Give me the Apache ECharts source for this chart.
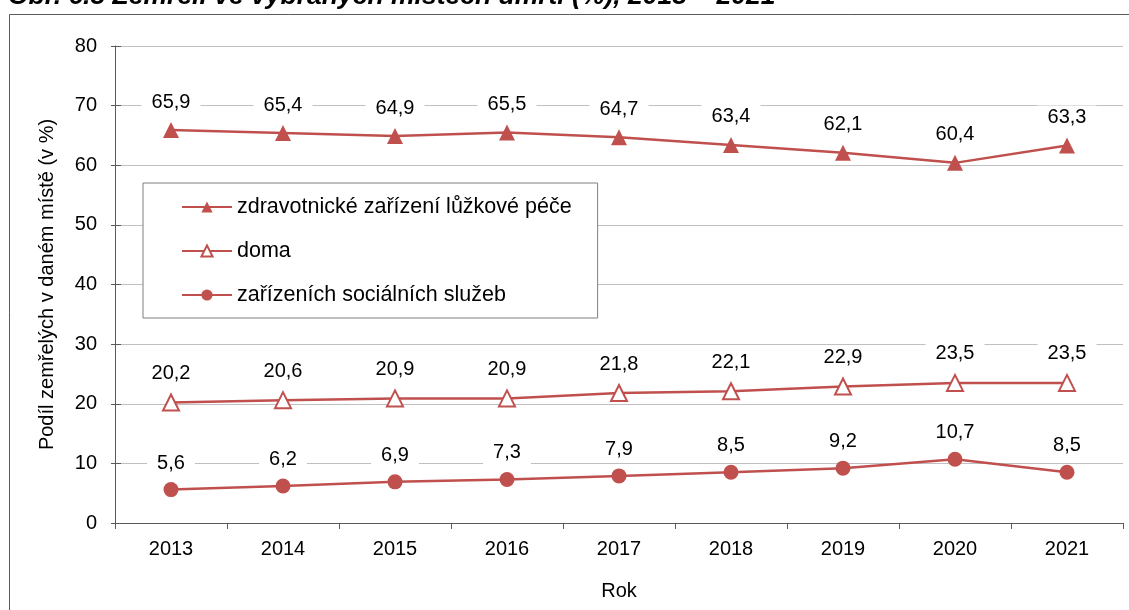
<!DOCTYPE html>
<html>
<head>
<meta charset="utf-8">
<script src="https://cdn.jsdelivr.net/npm/echarts@6/dist/echarts.min.js"></script>
<style>
  html, body { margin: 0; padding: 0; background: #fff; }
  #chart { width: 1129px; height: 610px; }
</style>
</head>
<body>
<div id="chart"></div>
<script>
// Years on the category axis
const years = ['2013', '2014', '2015', '2016', '2017', '2018', '2019', '2020', '2021'];
// Share of deaths by place (%)
const hospitalCare = [65.9, 65.4, 64.9, 65.5, 64.7, 63.4, 62.1, 60.4, 63.3];
const atHome = [20.2, 20.6, 20.9, 20.9, 21.8, 22.1, 22.9, 23.5, 23.5];
const socialServices = [5.6, 6.2, 6.9, 7.3, 7.9, 8.5, 9.2, 10.7, 8.5];
const seriesNames = ['zdravotnické zařízení lůžkové péče', 'doma', 'zařízeních sociálních služeb'];
const yTicks = [0, 10, 20, 30, 40, 50, 60, 70, 80];

const RED = '#C0504D';
const AXIS = '#595959';
const FONT = 'Liberation Sans, Arial, sans-serif';
const FS = 20;

function labelStyle(dist) {
  return {
    show: true,
    position: 'top',
    distance: dist,
    color: '#000',
    fontFamily: FONT,
    fontSize: FS,
    backgroundColor: '#fff',
    padding: [2, 10],
    formatter: p => String(p.value).replace('.', ',')
  };
}

function lineSeries(name, data, symbol, size, hollow, dist) {
  return {
    name: name,
    type: 'line',
    yAxisIndex: 0,
    data: data,
    symbol: symbol,
    symbolSize: size,
    showAllSymbol: true,
    lineStyle: { color: RED, width: 2.5 },
    itemStyle: hollow
      ? { color: '#fff', borderColor: RED, borderWidth: 2 }
      : { color: RED, borderColor: RED, borderWidth: 0 },
    label: labelStyle(dist),
    emphasis: { disabled: true },
    animation: false,
    z: 3
  };
}

const chart = echarts.init(document.getElementById('chart'), null, { renderer: 'canvas' });
chart.setOption({
  backgroundColor: '#fff',
  animation: false,
  graphic: [
    {
      type: 'text',
      left: 8,
      top: -17,
      style: {
        text: 'Obr. 6.3 Zemřelí ve vybraných místech úmrtí (%), 2013 – 2021',
        font: 'bold italic 26.5px ' + FONT,
        fill: '#000'
      },
      z: 10
    },
    {
      type: 'rect',
      shape: { x: 9.5, y: 14.5, width: 1200, height: 700 },
      style: { fill: 'none', stroke: '#5a5a5a', lineWidth: 1 },
      silent: true,
      z: 0
    }
  ],
  grid: { left: 115, right: 6, top: 46, bottom: 87, containLabel: false },
  legend: {
    orient: 'vertical',
    left: 143,
    top: 183,
    padding: [13, 26, 12, 38],
    backgroundColor: '#fff',
    borderColor: '#7f7f7f',
    borderWidth: 1,
    itemWidth: 50,
    itemHeight: 14,
    itemGap: 22,
    textStyle: { fontFamily: FONT, fontSize: 21.5, color: '#000' },
    data: seriesNames,
    selectedMode: false
  },
  xAxis: {
    type: 'category',
    data: years,
    boundaryGap: true,
    name: 'Rok',
    nameLocation: 'middle',
    nameGap: 58,
    nameTextStyle: { fontFamily: FONT, fontSize: FS, color: '#000' },
    axisLine: { lineStyle: { color: AXIS, width: 1 } },
    axisTick: { show: true, inside: false, length: 6, alignWithLabel: false, lineStyle: { color: AXIS } },
    axisLabel: { fontFamily: FONT, fontSize: FS, color: '#000', margin: 16 },
    splitLine: { show: false }
  },
  yAxis: [
    {
      type: 'value',
      min: yTicks[0],
      max: yTicks[yTicks.length - 1],
      interval: 10,
      name: 'Podíl zemřelých v daném místě (v %)',
      nameLocation: 'middle',
      nameRotate: 90,
      nameGap: 58,
      nameTextStyle: { fontFamily: FONT, fontSize: FS, color: '#000' },
      axisLine: { show: true, lineStyle: { color: AXIS, width: 1 } },
      axisTick: { show: true, inside: false, length: 4, lineStyle: { color: AXIS } },
      axisLabel: { fontFamily: FONT, fontSize: FS, color: '#000', margin: 18 },
      splitLine: { show: true, lineStyle: { color: '#c0c0c0', width: 1 } }
    },
    {
      // inner half of the crossing tick marks
      type: 'value',
      position: 'left',
      min: yTicks[0],
      max: yTicks[yTicks.length - 1],
      interval: 10,
      axisLine: { show: false },
      axisTick: { show: true, inside: true, length: 6, lineStyle: { color: AXIS } },
      axisLabel: { show: false },
      splitLine: { show: false }
    }
  ],
  series: [
    lineSeries(seriesNames[0], hospitalCare, 'triangle', 16, false, 8),
    lineSeries(seriesNames[1], atHome, 'triangle', 16, true, 8),
    lineSeries(seriesNames[2], socialServices, 'circle', 15, false, 7)
  ]
});
</script>
</body>
</html>
